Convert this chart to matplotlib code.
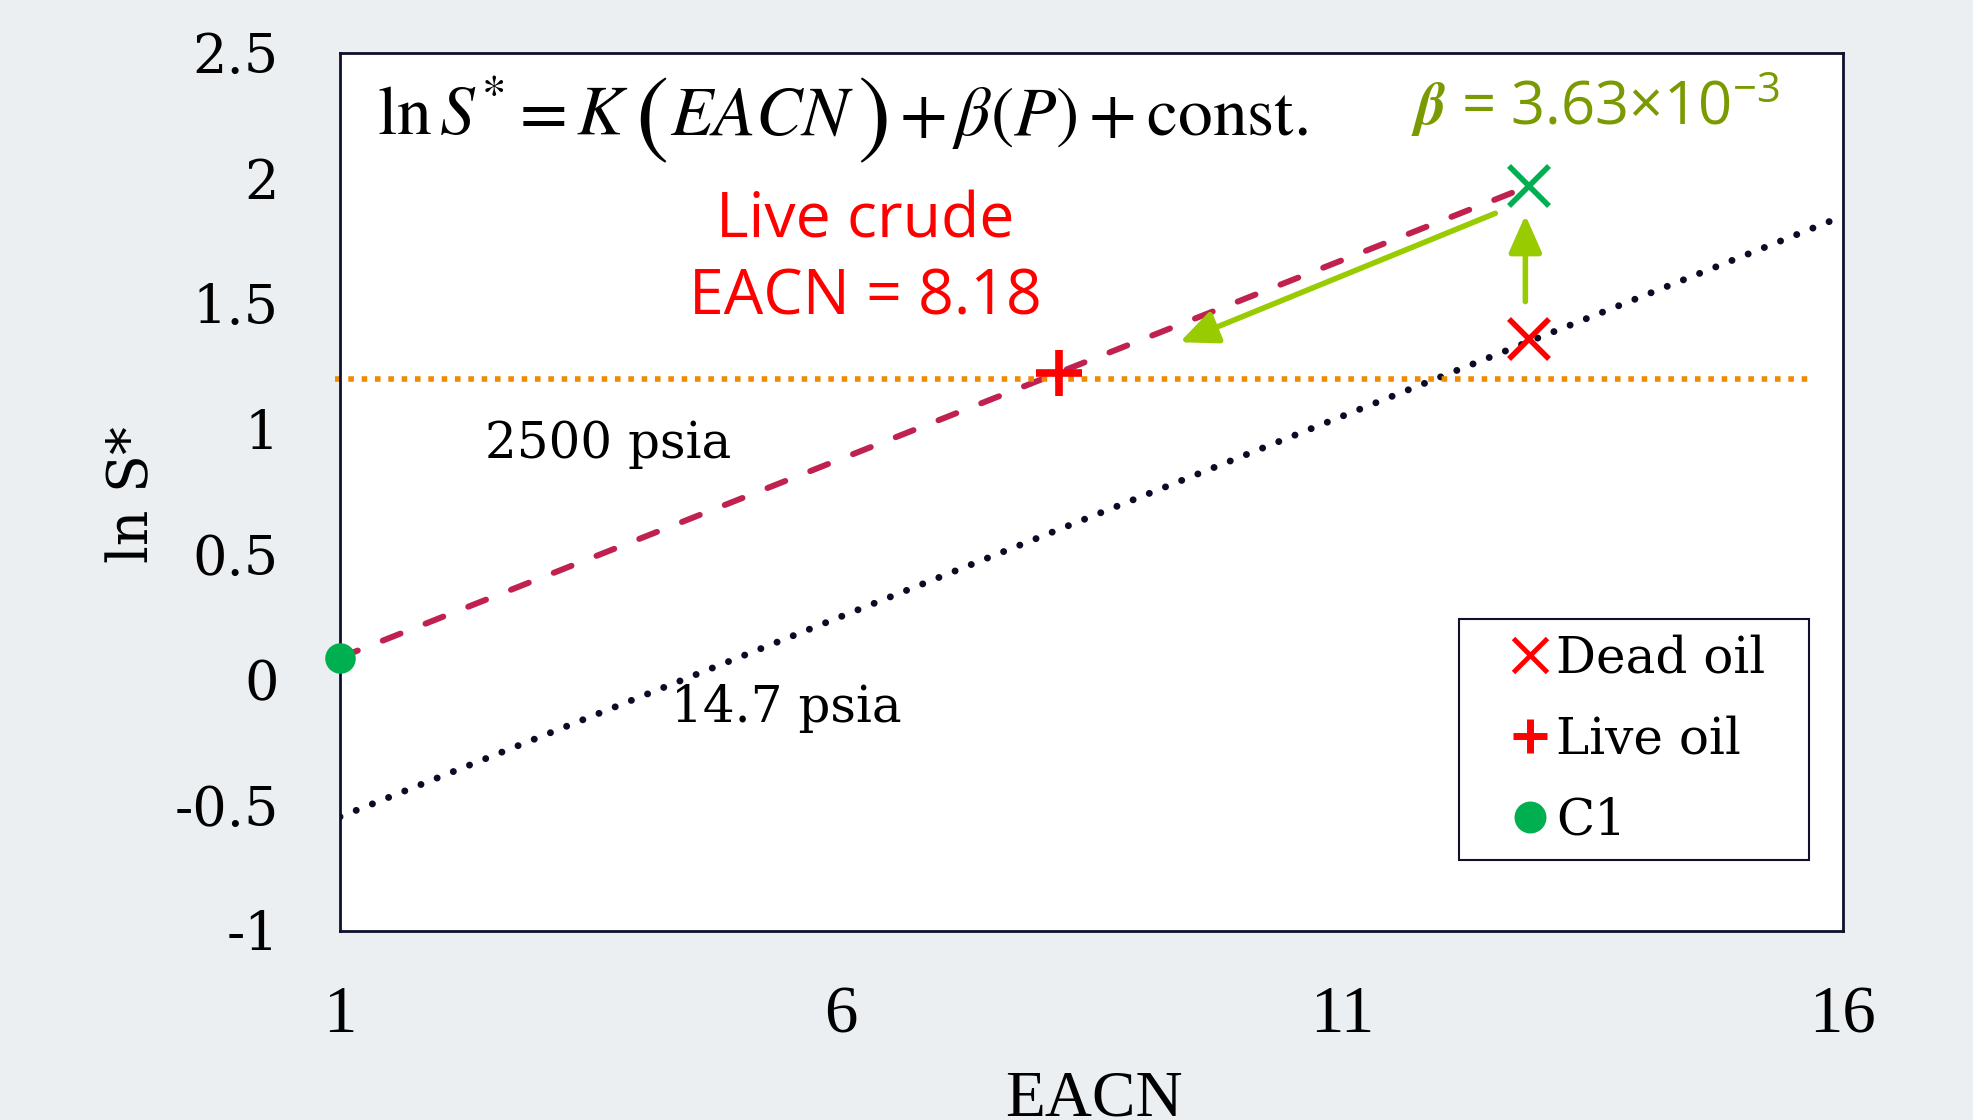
import matplotlib
matplotlib.use('Agg')
import matplotlib.pyplot as plt
from matplotlib.lines import Line2D
from matplotlib.transforms import IdentityTransform

# ---------------- data ----------------
x_ticks = [1, 6, 11, 16]
x_ticklabels = ['1', '6', '11', '16']
y_ticks = [-1, -0.5, 0, 0.5, 1, 1.5, 2, 2.5]
y_ticklabels = ['-1', '-0.5', '0', '0.5', '1', '1.5', '2', '2.5']

line_2500_eacn = [1, 12.87]
line_2500_lnS = [0.09, 1.97]
line_147_eacn = [1, 15.9]
line_147_lnS = [-0.545, 1.834]
live_level_eacn = [0.95, 15.65]
live_level_lnS = [1.2, 1.2]

dead_eacn = [12.87]
dead_lnS = [1.36]
dead_hp_eacn = [12.87]
dead_hp_lnS = [1.97]
live_eacn = [8.18]
live_lnS = [1.225]
c1_eacn = [1]
c1_lnS = [0.09]

arrow_shift_start = (12.53, 1.861)
arrow_shift_end = (9.38, 1.347)
arrow_press_start = (12.83, 1.509)
arrow_press_end = (12.83, 1.854)

legend_labels = ['Dead oil', 'Live oil', 'C1']

# ---------------- style ----------------
plt.rcParams['mathtext.fontset'] = 'stix'
BG = '#EBEFF2'
RED = '#FF0000'
GREEN = '#00B050'
OLIVE = '#7A9A01'
ARROW = '#99CC00'
CRIMSON = '#C0214F'
ORANGE = '#F08A00'
NAVY = '#0B0B26'
SLAB = 'DejaVu Serif'

fig = plt.figure(figsize=(19.73, 11.2), dpi=100, facecolor=BG)
ax = fig.add_axes([340/1973, 189/1120, 1503/1973, 878/1120])
ax.set_facecolor('white')
ax.set_xlim(1, 16)
ax.set_ylim(-1, 2.5)
for sp in ax.spines.values():
    sp.set_color('#10102E')
    sp.set_linewidth(2)

ax.set_xticks(x_ticks)
ax.set_xticklabels(x_ticklabels, fontsize=48, family='Liberation Serif')
ax.set_yticks(y_ticks)
ax.set_yticklabels(y_ticklabels, fontsize=39, family=SLAB)
ax.tick_params(axis='x', length=0, pad=39)
ax.tick_params(axis='y', length=0, pad=44)

# lines
ax.plot(line_147_eacn, line_147_lnS, color=NAVY, lw=5,
        linestyle=(0, (0.01, 2.5)), dash_capstyle='round', zorder=2)
ax.plot(line_2500_eacn, line_2500_lnS, color=CRIMSON, lw=4.3,
        linestyle=(0, (3.2, 4.5)), dash_capstyle='round', zorder=2)
ax.plot(live_level_eacn, live_level_lnS, color=ORANGE, lw=4,
        linestyle=(0, (1, 1.4)), dash_capstyle='butt', clip_on=False, zorder=2)

# markers
ax.plot(dead_eacn, dead_lnS, linestyle='none', marker='x', color=RED, ms=29, mew=4, zorder=4)
ax.plot(dead_hp_eacn, dead_hp_lnS, linestyle='none', marker='x', color=GREEN, ms=29, mew=4, zorder=4)
ax.plot(live_eacn, live_lnS, linestyle='none', marker='+', color=RED, ms=33, mew=5.5, zorder=4)
ax.plot(c1_eacn, c1_lnS, linestyle='none', marker='o', color=GREEN, mec='none', ms=22,
        clip_on=False, zorder=5)

# arrows
for s, e in [(arrow_shift_start, arrow_shift_end), (arrow_press_start, arrow_press_end)]:
    ax.annotate('', xy=e, xytext=s,
                arrowprops=dict(arrowstyle='-|>,head_length=0.95,head_width=0.42',
                                color=ARROW, lw=4, mutation_scale=24,
                                shrinkA=0, shrinkB=0), zorder=3)

# equation, assembled from pieces so the parentheses can be taller
renderer = fig.canvas.get_renderer()
x0, y0 = ax.transData.transform((1.37, 2.173))
eq_pieces = [
    (r'$\ln S^{*} = K$', 50, 0, 0),
    (r'$($', 72, 6, -10),
    (r'$EACN$', 50, 2, 0),
    (r'$)$', 72, 3, -10),
    (r'$+\,\beta(P) + \mathrm{const.}$', 50, 12, 0),
]
for s, size, gap, dy in eq_pieces:
    x0 += gap
    t = ax.text(x0, y0 + dy, s, fontsize=size, transform=IdentityTransform(),
                va='baseline', ha='left', color='black')
    x0 = t.get_window_extent(renderer).x1

ax.text(11.69, 2.213, r'$\boldsymbol{\beta}$ = 3.63×10$^{\mathregular{-3}}$',
        fontsize=43, family='Open Sans', va='baseline', ha='left', color=OLIVE)
ax.text(6.245, 1.763, 'Live crude', fontsize=45, family='Open Sans', color=RED,
        ha='center', va='baseline')
ax.text(6.245, 1.456, 'EACN = 8.18', fontsize=45, family='Open Sans', color=RED,
        ha='center', va='baseline')
ax.text(2.45, 0.886, '2500 psia', fontsize=36, family=SLAB, va='baseline', ha='left')
ax.text(4.30, -0.166, '14.7 psia', fontsize=36, family=SLAB, va='baseline', ha='left')

# axis labels
fig.text(1094/1973, 5/1120, 'EACN', fontsize=47, family='Liberation Serif',
         ha='center', va='baseline')
fig.text(133/1973, 1 - 495/1120, 'ln S*', fontsize=40, family=SLAB,
         rotation=90, ha='center', va='center')

# legend
handles = [
    Line2D([], [], linestyle='none', marker='x', color=RED, ms=25, mew=3.5),
    Line2D([], [], linestyle='none', marker='+', color=RED, ms=25, mew=5),
    Line2D([], [], linestyle='none', marker='o', color=GREEN, mec='none', ms=23),
]
leg = ax.legend(handles, legend_labels, loc='upper left',
                bbox_to_anchor=(0.7445, 0.082, 0.2329, 0.2734), mode='expand',
                borderaxespad=0, prop={'family': SLAB, 'size': 36},
                borderpad=0.3, labelspacing=0.63, handlelength=2.26,
                handletextpad=-0.62, fancybox=False, framealpha=1,
                edgecolor='#10102E', facecolor='white', numpoints=1)
leg.get_frame().set_linewidth(1.5)

fig.savefig('out.png', dpi=100, facecolor=BG)
